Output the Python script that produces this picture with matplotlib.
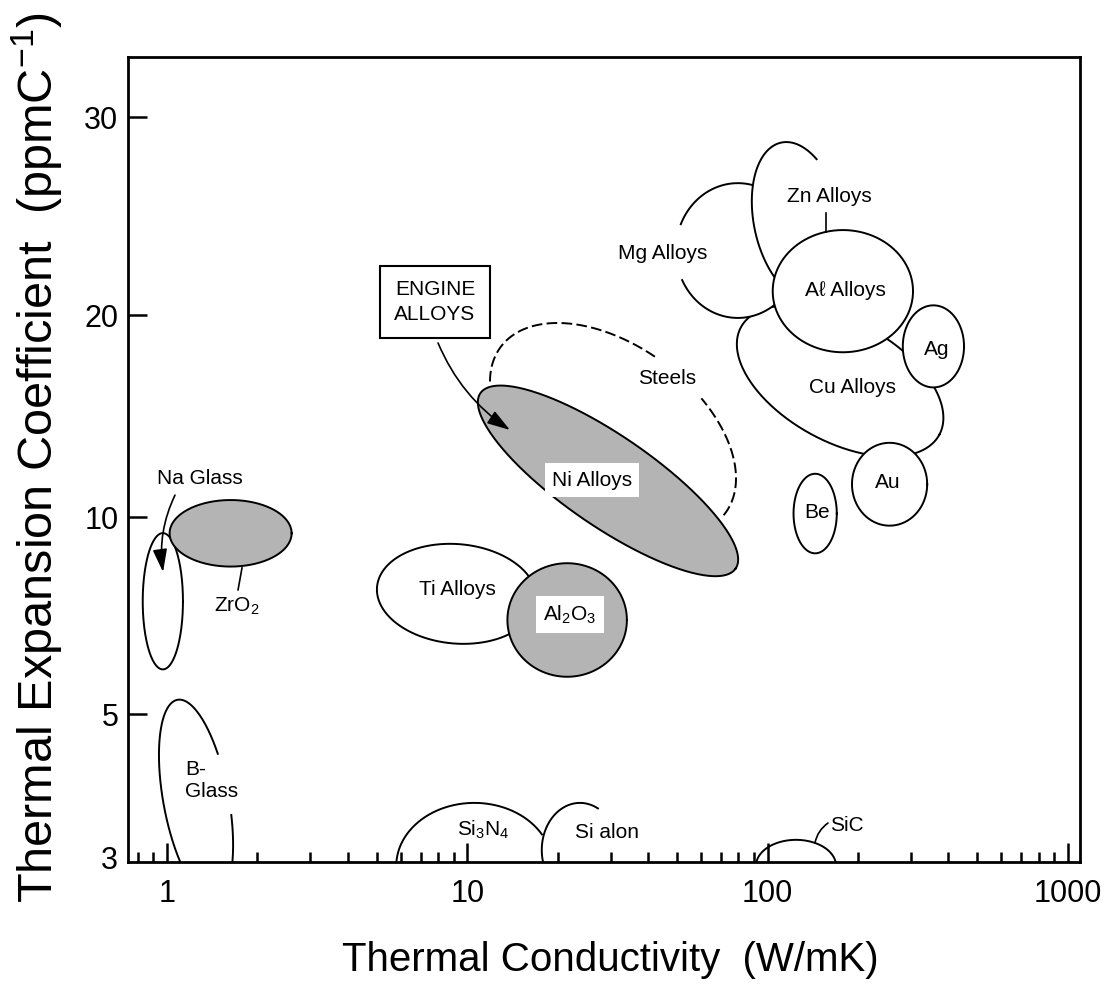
import matplotlib
matplotlib.use("Agg")
import matplotlib.pyplot as plt
import numpy as np
from matplotlib.ticker import LogLocator, NullFormatter, NullLocator

plt.rcParams["font.family"] = ["Liberation Sans", "DejaVu Sans"]
plt.rcParams["mathtext.fontset"] = "custom"
plt.rcParams["mathtext.rm"] = "Liberation Sans"
plt.rcParams["mathtext.it"] = "Liberation Sans:italic"
plt.rcParams["mathtext.bf"] = "Liberation Sans:bold"

# material regions: conductivity range (W/mK) and expansion range (ppm/C)
materials = ["Na Glass", "ZrO2", "B-Glass", "Ti Alloys", "Al2O3", "Steels", "Ni Alloys",
             "Cu Alloys", "Mg Alloys", "Zn Alloys", "Al Alloys", "Ag", "Au", "Be",
             "Si3N4", "Sialon", "SiC"]
k_low = [0.83, 1.02, 0.94, 5.0, 13.6, 11.9, 10.84, 79, 49.5, 88.6, 104, 282, 191, 122, 5.8, 17.7, 91.5]
k_high = [1.13, 2.6, 1.66, 17.0, 34.0, 78.5, 79.8, 385, 128, 179.9, 305, 451, 340, 170, 19.2, 31.8, 169]
cte_low = [5.85, 8.4, 2.57, 6.4, 5.7, 9.32, 8.12, 12.3, 19.8, 20.6, 17.6, 15.6, 9.7, 8.8, 2.32, 2.6, 2.65]
cte_high = [9.45, 10.6, 5.26, 9.1, 8.5, 19.46, 15.70, 20.4, 26.2, 28.5, 23.8, 20.4, 12.9, 11.6, 3.64, 3.64, 3.19]

# label text and where it sits (conductivity, expansion)
label_text = ["Na Glass", "ZrO$_2$", "B-\nGlass", "Ti Alloys", "Al$_2$O$_3$", "Steels", "Ni Alloys",
              "Cu Alloys", "Mg Alloys", "Zn Alloys", "A\u2113 Alloys", "Ag", "Au", "Be",
              "Si$_3$N$_4$", "Si alon", "SiC"]
label_k = [1.29, 1.71, 1.148, 9.24, 22.0, 46.2, 26.0, 192.5, 44.8, 161, 181, 367, 252, 146, 11.28, 29.2, 184]
label_cte = [11.43, 7.29, 3.95, 7.74, 7.09, 16.1, 11.35, 15.57, 22.7, 25.5, 21.05, 17.74, 11.24, 10.14, 3.30, 3.28, 3.36]

x_ticks = [1, 10, 100, 1000]
y_ticks = [3, 5, 10, 20, 30]

GREY = "#b4b4b4"
style = {
    "Na Glass": dict(fill="white", z=2),
    "ZrO2": dict(fill=GREY, z=3),
    "B-Glass": dict(fill=None, tilt=-79.5, arcs=[(114, 438)], z=2),
    "Ti Alloys": dict(fill="white", tilt=-5, z=2),
    "Al2O3": dict(fill=GREY, z=3),
    "Steels": dict(fill=None, tilt=-36.4, arcs=[(94, 205), (-2, 68)], ls=(0, (5.5, 2.2)), z=2),
    "Ni Alloys": dict(fill=GREY, tilt=-34.5, z=3),
    "Cu Alloys": dict(fill="white", tilt=-28.5, z=2),
    "Mg Alloys": dict(fill="white", arcs=[(206, 517)], z=2),
    "Zn Alloys": dict(fill="white", tilt=-78, arcs=[(135, 360)], z=3),
    "Al Alloys": dict(fill="white", z=4),
    "Ag": dict(fill="white", z=4),
    "Au": dict(fill="white", z=4),
    "Be": dict(fill="white", z=2),
    "Si3N4": dict(fill=None, arcs=[(30, 200)], z=2),
    "Sialon": dict(fill=None, arcs=[(62, 200)], z=2),
    "SiC": dict(fill=None, arcs=[(-20, 200)], z=2),
}
boxed = {"Ni Alloys", "Al2O3"}

# the expansion axis of the original is not a plain log axis: ticks sit at these heights
PX_PER_DECADE = 300.3
Y_TICK_PX = np.array([5, 148, 345, 547, 745])
LT = np.log10(y_ticks)
YP = Y_TICK_PX / PX_PER_DECADE


def _interp_ext(x, xp, fp):
    x = np.asarray(x, dtype=float)
    out = np.interp(x, xp, fp)
    lo = (fp[1] - fp[0]) / (xp[1] - xp[0])
    hi = (fp[-1] - fp[-2]) / (xp[-1] - xp[-2])
    out = np.where(x < xp[0], fp[0] + (x - xp[0]) * lo, out)
    out = np.where(x > xp[-1], fp[-1] + (x - xp[-1]) * hi, out)
    return out


def cte_fwd(y):
    y = np.asarray(y, dtype=float)
    return _interp_ext(np.log10(np.where(y > 0, y, 1e-9)), LT, YP)


def cte_inv(p):
    return 10 ** _interp_ext(p, YP, LT)


def region_outline(i, t0=0.0, t1=360.0, tilt=0.0, n=300):
    # ellipse fitted to the region's ranges, built in the scaled (log / axis) space
    x0, x1 = np.log10([k_low[i], k_high[i]])
    y0, y1 = cte_fwd([cte_low[i], cte_high[i]])
    cx, cy = (x0 + x1) / 2, (y0 + y1) / 2
    hx, hy = (x1 - x0) / 2, (y1 - y0) / 2
    th = np.radians(tilt)
    c, s = np.cos(th), np.sin(th)
    if tilt:
        d = c * c - s * s
        a = np.sqrt((hx * hx * c * c - hy * hy * s * s) / d)
        b = np.sqrt((hy * hy * c * c - hx * hx * s * s) / d)
    else:
        a, b = hx, hy
    t = np.radians(np.linspace(t0, t1, n))
    u, v = a * np.cos(t), b * np.sin(t)
    xs = cx + u * c - v * s
    ys = cy + u * s + v * c
    return 10 ** xs, cte_inv(ys)


fig = plt.figure(figsize=(11.19, 9.93), dpi=100)
ax = fig.add_axes([0.1144, 0.1319, 0.9651 - 0.1144, 0.9426 - 0.1319])
ax.set_xscale("log")
ax.set_yscale("function", functions=(cte_fwd, cte_inv))

for i, name in enumerate(materials):
    st = style[name]
    tilt = st.get("tilt", 0.0)
    if st["fill"]:
        kx, cy = region_outline(i, 0, 360, tilt)
        ax.fill(kx, cy, facecolor=st["fill"], edgecolor="none", zorder=st["z"])
    for t0, t1 in st.get("arcs", [(0, 360)]):
        kx, cy = region_outline(i, t0, t1, tilt)
        ax.plot(kx, cy, color="black", lw=1.4, ls=st.get("ls", "-"), zorder=st["z"])

for i, name in enumerate(materials):
    kw = dict(fontsize=15, ha="center", va="center", zorder=6)
    if name == "B-Glass":
        kw["ha"] = "left"
    if name in boxed:
        kw["bbox"] = dict(boxstyle="square,pad=0.35", facecolor="white", edgecolor="none")
    ax.text(label_k[i], label_cte[i], label_text[i], **kw)

ax.text(7.81, 20.54, "ENGINE\nALLOYS", fontsize=15, ha="center", va="center", linespacing=1.35,
        zorder=6, bbox=dict(boxstyle="square,pad=0.7", facecolor="white", edgecolor="black", lw=1.5))

arrow = "-|>,head_length=0.7,head_width=0.22"
ax.annotate("", xy=(0.970, 8.24), xytext=(1.063, 10.78), zorder=6,
            arrowprops=dict(arrowstyle=arrow, connectionstyle="arc3,rad=0.15", color="black",
                            lw=1.2, shrinkA=0, shrinkB=0, mutation_scale=20))
ax.annotate("", xy=(13.87, 13.48), xytext=(7.99, 18.17), zorder=6,
            arrowprops=dict(arrowstyle=arrow, connectionstyle="arc3,rad=0.15", color="black",
                            lw=1.2, shrinkA=0, shrinkB=0, mutation_scale=20))
ax.annotate("", xy=(158.9, 3.387), xytext=(143.8, 3.154), zorder=6,
            arrowprops=dict(arrowstyle="-", connectionstyle="arc3,rad=-0.2", color="black",
                            lw=1.2, shrinkA=0, shrinkB=0))
ax.plot([1.777, 1.724], [8.36, 7.74], color="black", lw=1.2, zorder=6)
ax.plot([156.5, 156.5], [24.65, 23.7], color="black", lw=1.2, zorder=6)

ax.set_xlim(0.7415, 1097)
ax.set_ylim(cte_inv(0.0), cte_inv(805 / PX_PER_DECADE))
ax.set_xticks(x_ticks)
ax.set_xticklabels([str(v) for v in x_ticks])
ax.xaxis.set_minor_locator(LogLocator(base=10, subs=np.arange(2, 10)))
ax.xaxis.set_minor_formatter(NullFormatter())
ax.set_yticks(y_ticks)
ax.set_yticklabels([str(v) for v in y_ticks])
ax.yaxis.set_minor_locator(NullLocator())

ax.tick_params(axis="x", which="major", direction="in", length=14, width=1.8, labelsize=22, pad=12, top=False)
ax.tick_params(axis="x", which="minor", direction="in", length=7, width=1.8, top=False)
ax.tick_params(axis="y", which="major", direction="in", length=14, width=1.8, labelsize=22, pad=7, right=False)
# the tick at 3 sits on the bottom spine in the original
ax.yaxis.get_major_ticks()[0].tick1line.set_visible(False)
for sp in ax.spines.values():
    sp.set_linewidth(2)

ax.set_xlabel("Thermal Conductivity  (W/mK)", fontsize=29)
ax.xaxis.set_label_coords(0.507, -0.098)
ax.set_ylabel("Thermal Expansion Coefficient  (ppmC$^{-1}$)", fontsize=35)
ax.yaxis.set_label_coords(-0.066, 0.502)

fig.savefig("out.png", dpi=100)
